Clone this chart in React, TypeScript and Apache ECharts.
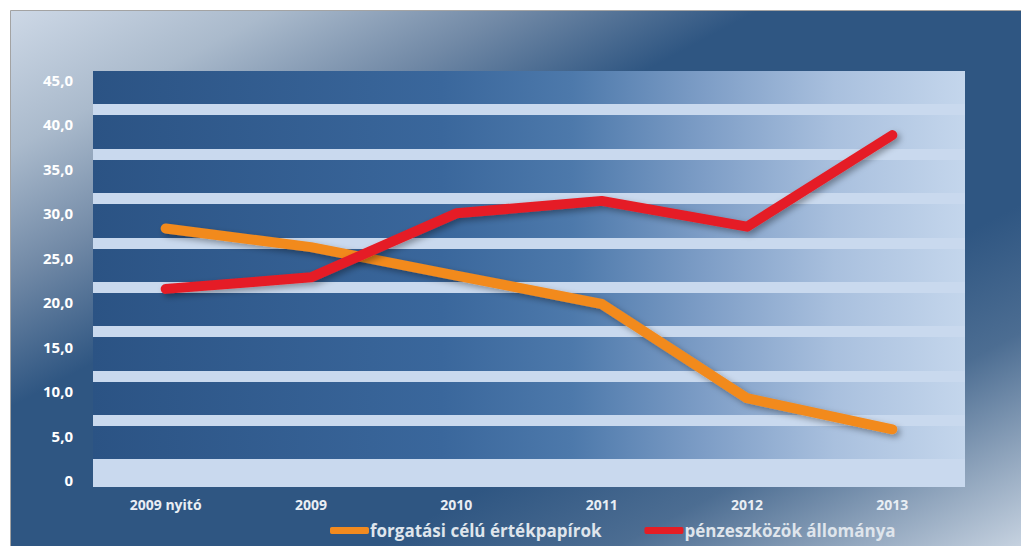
import React, { useEffect, useRef } from 'react';
import * as echarts from 'echarts';

const categories = ['2009 nyitó', '2009', '2010', '2011', '2012', '2013'];
const forgatasi = [28.3, 26.2, 23.0, 19.8, 9.2, 5.7];
const penzeszkozok = [21.5, 22.8, 30.0, 31.4, 28.5, 38.8];
const seriesNames = ['forgatási célú értékpapírok', 'pénzeszközök állománya'];
const yMin = 0;
const yMax = 45;
const yStep = 5;

export default function App() {
  const ref = useRef<HTMLDivElement>(null);
  useEffect(() => {
    document.body.style.margin = '0';
    const chart = echarts.init(ref.current!, null, { renderer: 'svg' });
    const font = 'Open Sans';
    chart.setOption({
      animation: false,
      graphic: [
        {
          type: 'rect',
          z: -10,
          shape: { x: 10.5, y: 10.5, width: 1011, height: 536 },
          style: {
            fill: new echarts.graphic.LinearGradient(0, 0, 1, 1, [
              { offset: 0, color: '#cdd8e6' },
              { offset: 0.13, color: '#aabacc' },
              { offset: 0.25, color: '#7189a6' },
              { offset: 0.37, color: '#2f5682' },
              { offset: 0.68, color: '#2f5682' },
              { offset: 0.8, color: '#4c6d92' },
              { offset: 0.9, color: '#8aa0b9' },
              { offset: 1, color: '#c6d2e0' },
            ]),
            stroke: '#a3a3a3',
            lineWidth: 1,
          },
        },
        {
          type: 'rect',
          z: -9,
          shape: { x: 93, y: 71, width: 872, height: 416 },
          style: {
            fill: new echarts.graphic.LinearGradient(0, 0, 1, 0, [
              { offset: 0, color: '#2b5384' },
              { offset: 0.4, color: '#3a679c' },
              { offset: 0.55, color: '#4d79ab' },
              { offset: 0.7, color: '#7d9dc6' },
              { offset: 0.85, color: '#a9c0de' },
              { offset: 1, color: '#c4d6ec' },
            ]),
          },
        },
        {
          type: 'rect',
          z: -8,
          shape: { x: 93, y: 459, width: 872, height: 28 },
          style: { fill: '#c9d9ee' },
        },
      ],
      grid: [
        { left: 93, right: 56, top: 80, bottom: 66 },
        { left: 93, right: 56, top: 109.5, bottom: 81 },
      ],
      xAxis: [
        {
          type: 'category',
          gridIndex: 0,
          data: categories,
          boundaryGap: true,
          axisLine: { show: false },
          axisTick: { show: false },
          splitLine: { show: false },
          axisLabel: {
            color: '#e9eef4',
            fontSize: 14,
            fontWeight: 'bold',
            fontFamily: font,
            margin: 17,
          },
        },
        {
          type: 'category',
          gridIndex: 1,
          data: categories,
          show: false,
        },
      ],
      yAxis: [
        {
          type: 'value',
          gridIndex: 0,
          min: yMin,
          max: yMax,
          interval: yStep,
          axisLine: { show: false },
          axisTick: { show: false },
          splitLine: { show: false },
          axisLabel: {
            color: '#ffffff',
            fontSize: 15,
            fontWeight: 'bold',
            fontFamily: font,
            margin: 20,
            formatter: (v: number) => (v === 0 ? '0' : v.toFixed(1).replace('.', ',')),
          },
        },
        {
          type: 'value',
          gridIndex: 1,
          min: yMin,
          max: yMax - yStep,
          interval: yStep,
          z: 1,
          axisLine: { show: false },
          axisTick: { show: false },
          axisLabel: { show: false },
          splitLine: { show: true, lineStyle: { color: '#c9d9ee', width: 11 } },
        },
      ],
      legend: {
        left: 330,
        top: 522,
        padding: 0,
        itemWidth: 39,
        itemHeight: 7,
        itemGap: 43,
        icon: 'roundRect',
        data: seriesNames,
        textStyle: {
          color: '#dfe5ec',
          fontSize: 17,
          fontWeight: 'bold',
          fontFamily: font,
          padding: [0, 0, 0, -4],
        },
      },
      series: [
        {
          type: 'line',
          name: seriesNames[0],
          data: forgatasi,
          xAxisIndex: 0,
          yAxisIndex: 0,
          symbol: 'none',
          z: 5,
          itemStyle: { color: '#f28a1f' },
          lineStyle: {
            color: '#f28a1f',
            width: 10,
            cap: 'round',
            join: 'round',
            shadowColor: 'rgba(0,0,0,0.35)',
            shadowBlur: 6,
            shadowOffsetX: 3,
            shadowOffsetY: 3,
          },
        },
        {
          type: 'line',
          name: seriesNames[1],
          data: penzeszkozok,
          xAxisIndex: 0,
          yAxisIndex: 0,
          symbol: 'none',
          z: 6,
          itemStyle: { color: '#e51e25' },
          lineStyle: {
            color: '#e51e25',
            width: 10,
            cap: 'round',
            join: 'round',
            shadowColor: 'rgba(0,0,0,0.35)',
            shadowBlur: 6,
            shadowOffsetX: 3,
            shadowOffsetY: 3,
          },
        },
      ],
    });
    return () => chart.dispose();
  }, []);
  return <div ref={ref} style={{ width: 1021, height: 546 }} />;
}
